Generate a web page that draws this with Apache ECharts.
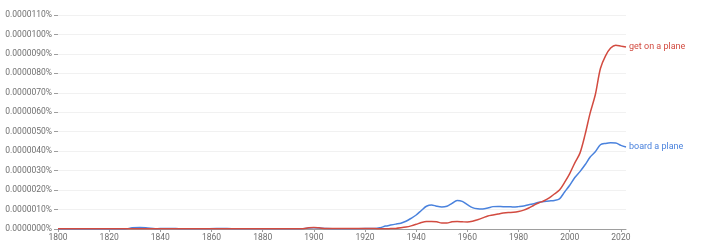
<!DOCTYPE html>
<html>
<head>
<meta charset="utf-8">
<script src="https://cdn.jsdelivr.net/npm/echarts@6/dist/echarts.min.js"></script>
<style>html,body{margin:0;padding:0;background:#fff}#c{width:704px;height:248px}</style>
</head>
<body>
<div id="c"></div>
<script>
// Years sampled (shared by both series)
const years = [1800,1810,1820,1826,1829,1832,1835,1838,1842,1846,1850,1856,1862,1866,1870,1880,1890,1895,1898,1900,1902,1905,1910,1915,
  1920,1922,1924,1926,1928,1930,1932,1934,1936,1938,1940,1942,1944,1946,1948,1950,1952,1954,1956,1958,1960,1962,1964,1966,1968,1970,
  1972,1974,1976,1978,1980,1982,1984,1986,1988,1990,1992,1994,1996,1998,2000,2002,2004,2006,2008,2010,2012,2014,2016,2018,2020,2022];
// values in percent
const boardAPlane = [0,0,0,0,0.06e-6,0.08e-6,0.05e-6,0.01e-6,0.03e-6,0.02e-6,0.01e-6,0.01e-6,0.02e-6,0.02e-6,0.01e-6,0.01e-6,0.01e-6,0.01e-6,0.05e-6,0.06e-6,0.05e-6,0.02e-6,0.01e-6,0.01e-6,
  0.02e-6,0.02e-6,0.02e-6,0.07e-6,0.15e-6,0.2e-6,0.25e-6,0.3e-6,0.4e-6,0.55e-6,0.72e-6,0.95e-6,1.17e-6,1.24e-6,1.17e-6,1.13e-6,1.17e-6,1.32e-6,1.46e-6,1.42e-6,1.25e-6,1.1e-6,1.04e-6,1.03e-6,1.08e-6,1.15e-6,
  1.16e-6,1.15e-6,1.15e-6,1.13e-6,1.15e-6,1.18e-6,1.25e-6,1.3e-6,1.38e-6,1.41e-6,1.44e-6,1.47e-6,1.55e-6,1.9e-6,2.25e-6,2.65e-6,2.95e-6,3.3e-6,3.7e-6,3.97e-6,4.33e-6,4.4e-6,4.43e-6,4.42e-6,4.3e-6,4.22e-6];
const getOnAPlane = [0.01e-6,0.01e-6,0.01e-6,0.01e-6,0.01e-6,0.01e-6,0.01e-6,0.01e-6,0.01e-6,0.01e-6,0.01e-6,0.01e-6,0.01e-6,0.01e-6,0.01e-6,0.01e-6,0.01e-6,0.01e-6,0.06e-6,0.08e-6,0.06e-6,0.02e-6,0.02e-6,0.02e-6,
  0.03e-6,0.03e-6,0.02e-6,0.01e-6,0.01e-6,0.02e-6,0.03e-6,0.06e-6,0.1e-6,0.16e-6,0.24e-6,0.33e-6,0.38e-6,0.38e-6,0.37e-6,0.31e-6,0.31e-6,0.37e-6,0.38e-6,0.37e-6,0.36e-6,0.4e-6,0.48e-6,0.57e-6,0.67e-6,0.72e-6,
  0.77e-6,0.82e-6,0.85e-6,0.86e-6,0.9e-6,0.97e-6,1.08e-6,1.22e-6,1.35e-6,1.45e-6,1.6e-6,1.8e-6,2.0e-6,2.4e-6,2.85e-6,3.4e-6,3.9e-6,4.85e-6,5.97e-6,6.9e-6,8.25e-6,8.9e-6,9.3e-6,9.45e-6,9.4e-6,9.35e-6];
const xTicks = [1800,1820,1840,1860,1880,1900,1920,1940,1960,1980,2000,2020];
const seriesNames = ['board a plane','get on a plane'];

const chart = echarts.init(document.getElementById('c'), null, {renderer:'canvas'});
const pair = (vals) => years.map((y,i)=>[y, vals[i]]);
const font = 'Roboto, "Liberation Sans", Arial, sans-serif';
chart.setOption({
  animation:false,
  grid:{left:58,right:78,top:15,bottom:19,containLabel:false},
  xAxis:{type:'value',min:1800,max:2022,interval:20,
    axisLine:{lineStyle:{color:'#9e9e9e',width:1}},
    axisTick:{show:true,length:3,lineStyle:{color:'#9e9e9e'},customValues:xTicks},
    axisLabel:{color:'#6f6f6f',fontSize:8.5,fontFamily:font,margin:4,customValues:xTicks,formatter:v=>String(v)},
    splitLine:{show:false}},
  yAxis:{type:'value',min:0,max:1.1e-5,interval:1e-6,
    axisLine:{show:false},
    axisTick:{show:true,length:4,lineStyle:{color:'#9e9e9e'}},
    axisLabel:{color:'#6f6f6f',fontSize:8.5,fontFamily:font,margin:6,formatter:v=>(v).toFixed(7)+'%'},
    splitLine:{show:true,lineStyle:{color:'#f1f1f1',width:1}}},
  series:[
    {name:seriesNames[0],type:'line',data:pair(boardAPlane),showSymbol:false,smooth:0.3,
      lineStyle:{color:'#4a82dd',width:1.5},itemStyle:{color:'#4a82dd'},
      endLabel:{show:true,formatter:'{a}',color:'#4a82dd',fontSize:9,fontFamily:font,distance:3}},
    {name:seriesNames[1],type:'line',data:pair(getOnAPlane),showSymbol:false,smooth:0.3,
      lineStyle:{color:'#d24b40',width:1.5},itemStyle:{color:'#d24b40'},
      endLabel:{show:true,formatter:'{a}',color:'#d24b40',fontSize:9,fontFamily:font,distance:3}}
  ]
});
</script>
</body>
</html>
